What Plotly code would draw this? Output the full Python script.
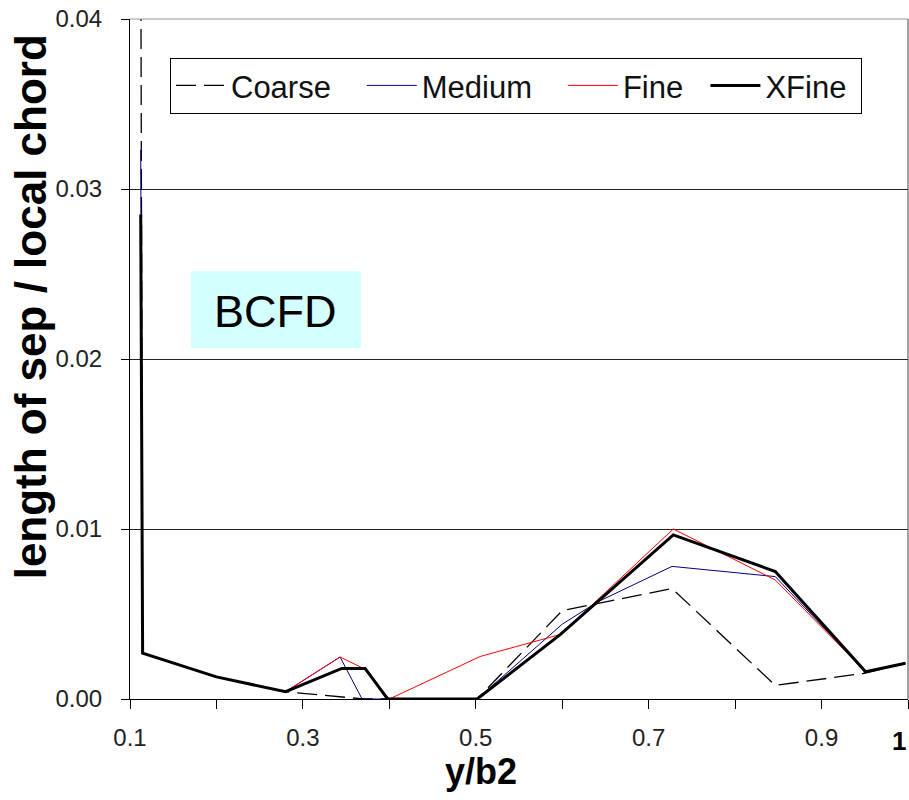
import plotly.graph_objects as go

# ---- data ----
coarse_x = [0.1124, 0.1146, 0.2, 0.28, 0.37, 0.5016, 0.6, 0.727, 0.8465, 0.948, 0.997]
coarse_y = [0.046, 0.0027, 0.0013, 0.00043, 0.0, 0.0, 0.0052, 0.0065, 0.0008, 0.0015, 0.0021]

medium_x = [0.1124, 0.1146, 0.2, 0.28, 0.343, 0.3685, 0.5016, 0.6, 0.6405, 0.727, 0.8465, 0.951, 0.997]
medium_y = [0.0323, 0.0027, 0.0013, 0.00043, 0.00247, 0.0, 0.0, 0.0044, 0.0057, 0.0078, 0.0072, 0.0016, 0.0021]

fine_x = [0.1124, 0.1146, 0.2, 0.28, 0.343, 0.37, 0.4, 0.505, 0.598, 0.7285, 0.8465, 0.951, 0.997]
fine_y = [0.0285, 0.0027, 0.0013, 0.00043, 0.00247, 0.0018, 0.0, 0.0025, 0.0038, 0.0100, 0.0070, 0.0016, 0.0021]

xfine_x = [0.1124, 0.1146, 0.2, 0.28, 0.345, 0.372, 0.398, 0.5016, 0.598, 0.7285, 0.8465, 0.951, 0.997]
xfine_y = [0.0285, 0.0027, 0.0013, 0.00043, 0.0018, 0.0018, 0.0, 0.0, 0.0038, 0.00965, 0.0075, 0.0016, 0.0021]

series_names = ["Coarse", "Medium", "Fine", "XFine"]
x_tickvals = [0.1, 0.2, 0.3, 0.4, 0.5, 0.6, 0.7, 0.8, 0.9, 1.0]
x_ticktext = ["0.1", "", "0.3", "", "0.5", "", "0.7", "", "0.9", ""]
y_tickvals = [0.0, 0.01, 0.02, 0.03, 0.04]

FONT = "Liberation Sans, Arial, sans-serif"
NB = "\u00a0"
# trailing non-breaking spaces widen legend entries to match the reference spacing
legend_pad = [3, 3, 2, 1]

styles = [
    dict(color="black", width=1.3, dash="20px,8px"),
    dict(color="#000080", width=1),
    dict(color="#ff0000", width=1),
    dict(color="black", width=3),
]
data = [(coarse_x, coarse_y), (medium_x, medium_y), (fine_x, fine_y), (xfine_x, xfine_y)]

fig = go.Figure()
for (xs, ys), nm, st, pad in zip(data, series_names, styles, legend_pad):
    fig.add_trace(go.Scatter(x=xs, y=ys, mode="lines", name=nm + NB * pad, line=st))

fig.update_layout(
    width=909, height=800,
    margin=dict(l=130, r=1, t=19, b=101),
    paper_bgcolor="white", plot_bgcolor="white",
    font=dict(family=FONT, color="#222"),
    showlegend=True,
    legend=dict(orientation="h", x=0.0514, y=0.943, xanchor="left", yanchor="top",
                bordercolor="black", borderwidth=1, bgcolor="white",
                font=dict(size=31, color="#111", family=FONT),
                itemwidth=50, tracegroupgap=0),
    xaxis=dict(range=[0.1, 1.0], tickvals=x_tickvals, ticktext=x_ticktext,
               showgrid=False, zeroline=False, showline=True, linecolor="black",
               linewidth=1, ticks="outside", ticklen=9, tickcolor="black",
               tickfont=dict(size=24, family=FONT, color="#222"),
               ticklabelstandoff=8),
    yaxis=dict(range=[0, 0.04], tickvals=y_tickvals, tickformat=".2f",
               showgrid=True, gridcolor="#222", gridwidth=1, zeroline=False,
               showline=True, linecolor="black", linewidth=1,
               ticks="outside", ticklen=8, tickcolor="black",
               tickfont=dict(size=24, family=FONT, color="#222"),
               ticklabelstandoff=14),
)

# plot border (top / right)
fig.add_shape(type="line", xref="paper", yref="paper", x0=0, x1=1, y0=1, y1=1,
              line=dict(color="#999", width=1))
fig.add_shape(type="line", xref="paper", yref="paper", x0=1, x1=1, y0=0, y1=1,
              line=dict(color="#444", width=1))

# BCFD label box
fig.add_shape(type="rect", xref="paper", yref="paper", x0=0.0784, x1=0.297,
              y0=0.516, y1=0.629, fillcolor="#d4ffff", line=dict(width=0), layer="below")
fig.add_annotation(xref="paper", yref="paper", x=0.1864, y=0.570, text="BCFD",
                   xanchor="center", yanchor="middle",
                   showarrow=False, font=dict(size=45, color="black", family=FONT))

# axis titles
fig.add_annotation(xref="paper", yref="paper", x=-0.1285, y=0.576,
                   xanchor="center", yanchor="middle",
                   text="<b>length of sep / local chord</b>", textangle=-90,
                   showarrow=False, font=dict(size=44, color="black", family=FONT))
fig.add_annotation(xref="paper", yref="paper", x=0.451, y=-0.107,
                   xanchor="center", yanchor="middle",
                   text="<b>y/b2</b>", showarrow=False,
                   font=dict(size=36, color="black", family=FONT))
# "1" at right end of x axis
fig.add_annotation(x=1.0, xref="x", y=-0.0618, yref="paper", text="<b>1</b>",
                   xanchor="right", yanchor="middle", showarrow=False,
                   font=dict(size=26, color="black", family=FONT))

fig.write_html("out.html")
